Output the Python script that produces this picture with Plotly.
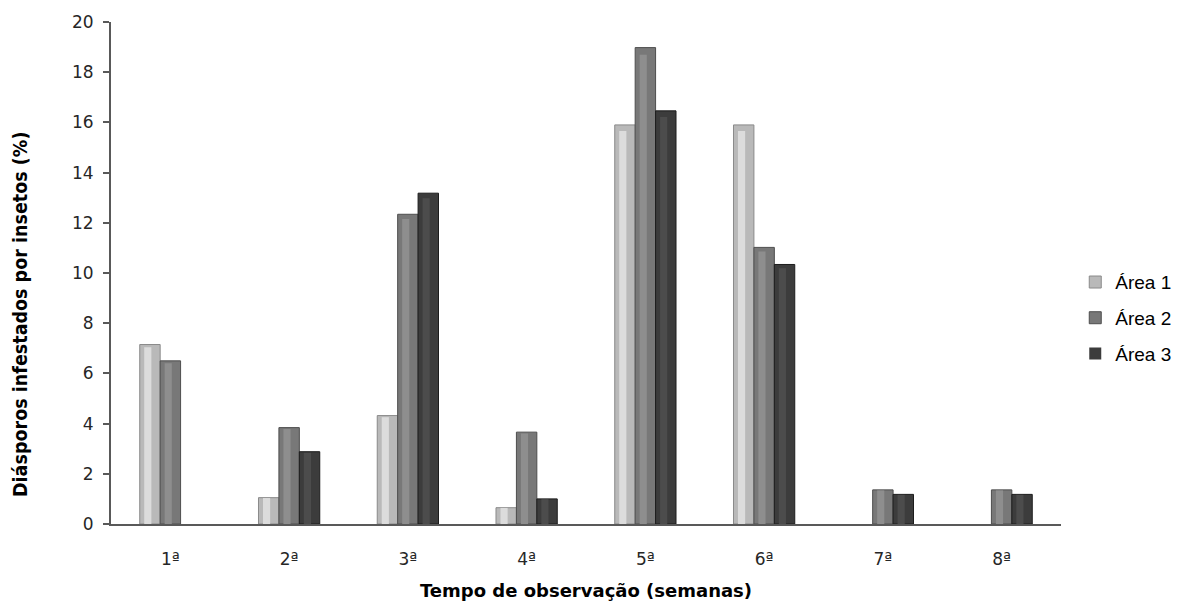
import plotly.graph_objects as go

# Weekly share of seed dispersal units infested by insects, per area
semanas = ["1ª", "2ª", "3ª", "4ª", "5ª", "6ª", "7ª", "8ª"]
area1 = [7.15, 1.05, 4.32, 0.65, 15.9, 15.9, 0, 0]
area2 = [6.5, 3.84, 12.34, 3.66, 18.98, 11.02, 1.36, 1.36]
area3 = [0, 2.88, 13.18, 1.0, 16.46, 10.34, 1.18, 1.18]
nomes = ["Área 1", "Área 2", "Área 3"]

series = [area1, area2, area3]
# base fill, edge, highlight per series (gray cylinder look)
cores = [
    ("#b9b9b9", "#8a8a8a", "#dcdcdc"),
    ("#787878", "#4e4e4e", "#8e8e8e"),
    ("#3c3c3c", "#1c1c1c", "#4c4c4c"),
]

W = 0.172          # bar width in category units
offsets = [-1.5 * W, -0.5 * W, 0.5 * W]

fig = go.Figure()
for i, (vals, nome) in enumerate(zip(series, nomes)):
    base, edge, hi = cores[i]
    fig.add_trace(go.Bar(
        x=semanas, y=vals, name=nome,
        width=W, offset=offsets[i],
        marker=dict(color=base,
                    line=dict(color=edge, width=[1 if v > 0 else 0 for v in vals])),
        legendgroup=nome,
    ))
    # lighter inner strip giving the rounded shading
    fig.add_trace(go.Bar(
        x=semanas, y=[v * 0.985 for v in vals],
        width=W * 0.35, offset=offsets[i] + W * 0.22,
        marker=dict(color=hi, line=dict(width=0)),
        showlegend=False, hoverinfo="skip", legendgroup=nome,
    ))

fig.update_layout(
    width=1188, height=610,
    barmode="overlay",
    paper_bgcolor="white", plot_bgcolor="white",
    margin=dict(l=111, r=127, t=20, b=84),
    font=dict(family="DejaVu Sans", size=17, color="#262626"),
    showlegend=True,
    legend=dict(
        x=1.015, y=0.41, xanchor="left", yanchor="middle",
        font=dict(family="Liberation Sans", size=19, color="#000000"),
        tracegroupgap=8, traceorder="grouped",
        itemwidth=30,
    ),
    xaxis=dict(
        showline=True, linecolor="#595959", linewidth=2,
        ticks="", ticklabelstandoff=19,
        tickfont=dict(family="DejaVu Sans", size=17, color="#262626"),
        title=dict(text="<b>Tempo de observação (semanas)</b>",
                   font=dict(family="DejaVu Sans", size=18, color="#000000"),
                   standoff=16),
        range=[-0.5, 7.5],
    ),
    yaxis=dict(
        range=[0, 20], dtick=2, tick0=0,
        showline=True, linecolor="#595959", linewidth=2,
        ticks="outside", ticklen=6, tickcolor="#595959", tickwidth=2,
        ticklabelstandoff=6,
        showgrid=False, zeroline=False,
        tickfont=dict(family="DejaVu Sans", size=17, color="#262626"),
    ),
    annotations=[dict(
        text="<b>Diásporos infestados por insetos (%)</b>",
        textangle=-90, xref="paper", yref="paper",
        x=-0.096, y=0.418, xanchor="center", yanchor="middle",
        showarrow=False,
        font=dict(family="DejaVu Sans Condensed, Liberation Sans Narrow, sans-serif",
                  size=19.5, color="#000000"),
    )],
)

fig.write_html("out.html")
